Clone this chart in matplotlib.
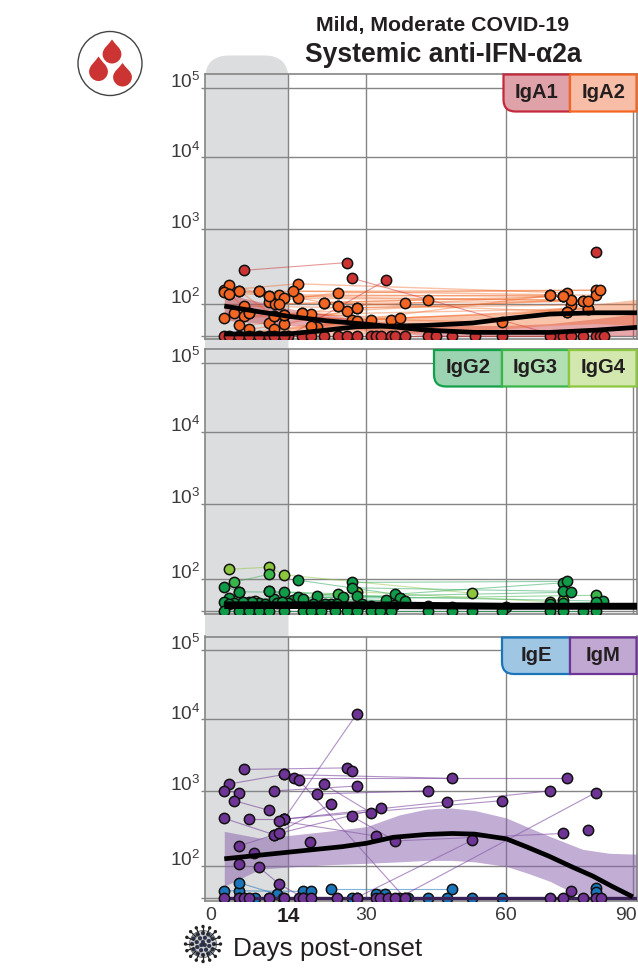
import numpy as np
import matplotlib
matplotlib.use("Agg")
import matplotlib.pyplot as plt
from matplotlib.path import Path
from matplotlib.patches import PathPatch, Circle
from matplotlib.transforms import ScaledTranslation
from matplotlib.ticker import NullLocator

plt.rcParams['font.family'] = ['Liberation Sans', 'DejaVu Sans']

W, H = 638, 972
AXIS_DAYS = [-1.1, 0, 14, 30, 60, 90, 91]
AXIS_PIX = [205, 211, 288.5, 366.5, 506.5, 633, 637.2]
AXIS_LOGS = [1.509, 1.556, 2, 3, 4, 5, 5.195]
AXIS_DROP = [-264.5, -261.2, -229.3, -154.4, -83, -13.5, 0]
LOD = 36

# ---------- IgA ----------
iga2_days = [[2.4, 15.9, 74.4], [3.3, 10.5, 70.3], [3.3, 12.2, 73.4], [5.1, 16, 75.4], [8.7, 21.2, 43.3],
             [10.5, 24.1, 81.2], [11.5, 38.2, 78.3], [13.2, 15, 81.2], [6, 28, 75.4], [2.4, 11.4, 31, 79.3],
             [4.2, 13.2, 27, 74.4], [6, 16.8, 35.2, 59], [6.9, 18.7, 37.2], [5.1, 10.5, 24.1], [6.9, 13.2, 26],
             [11.4, 19.8, 28], [18.7, 70.3], [2.4, 82.2], [12.2, 73.4], [13.2, 79.3], [16.8, 75.4], [10.5, 78.3],
             [21.2, 74.4], [24.1, 73.4], [28, 79.3], [8.7, 13.2], [5.1, 11.4], [3.3, 6.9]]
iga2_vals = [[152, 185, 140], [180, 126, 130], [137, 132, 126], [148, 118, 113], [150, 104, 113],
             [106, 140, 152], [100, 103, 110], [121, 148, 130], [93, 88, 96], [64, 67, 60, 86],
             [75, 70, 60, 78], [67, 75, 60, 55], [75, 71, 64], [50, 54, 92], [44, 52, 80],
             [44, 48, 57], [49, 130], [145, 152], [100, 126], [70, 86], [75, 113], [126, 110],
             [104, 78], [92, 126], [88, 110], [150, 70], [148, 67], [137, 75]]
iga1_days = [[6, 26], [27, 72], [14, 34.1], [81.2]]
iga1_vals = [[280, 355], [220, 36], [36, 205], [490]]
iga1_lod_days = [2.4, 3.3, 5.1, 6.9, 8.7, 10.5, 11.4, 13.2, 16.8, 18.7, 21.2, 24.1, 26, 28, 31, 32, 33.1, 35.2,
                 36.2, 38.2, 43.3, 45, 48.3, 53.2, 59, 70.3, 73.4, 75.4, 78.3, 81.2, 82.2, 83.2]

fit_a_days = [2.4, 8.9, 14, 21.8, 30, 42.8, 53.2, 59, 70.3, 81.2, 91]
fit_a_vals = [93, 77, 67, 58, 52, 43, 40, 40, 40, 43, 47]
fit_b_days = [2.4, 14, 21.8, 28, 35.2, 42.8, 52.7, 60, 70.3, 81.2, 91]
fit_b_vals = [38, 38, 43, 48, 49, 50, 54, 62, 72, 75, 75]
band_b_days = [2.4, 21.8, 35.7, 60, 70.3, 81.2, 91]
band_b_up = [38, 56, 66, 73, 86, 100, 115]
band_b_lo = [36, 37, 38, 45, 50, 53, 50]
band_a_days = [2.4, 14, 30, 42.8, 60, 70.3, 81.2, 91]
band_a_up = [137, 86, 59, 50, 50, 53, 62, 73]
band_a_lo = [59, 50, 43, 36, 36, 36, 36, 36]

# ---------- IgG ----------
igg2_days = [[2.4, 5.1], [15.9, 36.2, 73.4], [27, 74.4], [27, 73.4], [5.1, 13.2, 28, 75.4], [3.3, 11.4, 25.2],
             [2.4, 6.9, 15, 34.1], [8.7, 16, 37.2], [10.5, 17, 38.2], [19.8, 83], [22.8, 70.3], [43.3, 73.4],
             [48.3, 81.2], [4.2, 9.8, 19], [6, 12, 24], [7.5, 14], [12.8, 21.5], [29, 36], [3.3, 5.8], [31, 60]]
igg2_vals = [[78, 66], [96, 61, 88], [89, 92], [75, 67], [66, 65, 57, 65], [54, 53, 56],
             [47, 47, 51, 50], [46, 55, 54], [67, 53, 49], [58, 49], [44, 44], [42, 46], [41, 47],
             [46, 45, 44], [44, 46, 45], [47, 46], [48, 44], [44, 43], [45, 47], [42, 41]]
igg2_lod_days = [2.4, 5.1, 6.9, 8.7, 10.5, 13.2, 17, 18.7, 20.6, 23.6, 26, 28, 31, 33, 35.2, 43.3, 48.3, 52.7,
                 59, 70.3, 73.4, 78.3, 81.2]
igg3_days = [[4.2, 10.5], [10.5, 24.1, 37.2, 81.2]]
igg3_vals = [[90, 115], [67, 62, 54, 59]]
igg4_days = [[3.3, 10.5, 13.2, 52.7], [8, 28, 70.3], [73.4]]
igg4_vals = [[134, 143, 113, 63], [49, 66, 48], [50]]
fit_g_days = [2.4, 30, 60, 91]
fit_g1_vals = [45, 45, 43, 43]
fit_g2_vals = [41, 41, 40, 40]

# ---------- IgE / IgM ----------
ige_days = [[2.4, 17], [5.1], [5.1, 12], [18.7], [22.8, 48.3], [32], [34], [81.2], [81.2]]
ige_vals = [[45, 44], [45], [58, 40], [44], [47, 47], [41], [41], [49], [43]]
ige_lod_days = [5.1, 8, 10.5, 13, 27, 39, 43.3, 47.3, 52.7, 59]
igm_days = [[28, 13.2], [6, 26, 27], [13.2, 48.3], [15.1, 74.4], [3.3, 13.2], [16.2, 38.2], [21.2, 31],
            [28, 11.4], [2.4, 5.1], [43.3, 19.8], [70.3, 47.3, 13.2], [81.2, 37], [4.2, 10.5], [59, 13.2],
            [22.8, 11.4], [33.1, 12.2], [2.4, 11.4], [6.9, 13.2], [27, 36.2, 73.4], [12.2, 32], [5.1, 12.2],
            [18.5], [52.7, 28], [7.8], [5.1], [8.7, 12.3, 17], [79.3]]
igm_vals = [[12000, 420], [2000, 2100, 1900], [1700, 1500], [1500, 1500], [1250, 1700], [1400, 36], [1250, 510],
            [1170, 1000], [1000, 950], [1000, 910], [1000, 720, 420], [950, 36], [740, 550], [740, 420],
            [670, 260], [590, 270], [430, 260], [420, 420], [460, 215, 270], [400, 250], [185, 270],
            [210], [220, 36], [150], [105], [95, 56, 36], [300]]
igm_lod_days = [2.4, 5.1, 6, 6.9, 10.5, 13.2, 16.2, 17, 18.7, 23.9, 28, 32, 33, 34.7, 36.2, 38.2, 70.3, 73.4,
                78.3, 81.2, 82.4]
igm_extra_days = [75.4]
igm_extra_vals = [45]
fit_m_days = [2.4, 14, 25, 30, 35.7, 42.8, 48.3, 53.2, 60, 64.7, 70.3, 75.5, 80.5, 85, 90]
fit_m_vals = [124, 152, 180, 200, 240, 262, 270, 265, 229, 180, 133, 97, 72, 52, 37]
band_m_days = [2.4, 8.9, 14, 21.8, 30, 33, 37.1, 42.8, 45.5, 48.3, 53.2, 60, 65, 70.3, 78.1, 84.4, 91]
band_m_up = [288, 234, 254, 288, 333, 389, 479, 570, 585, 590, 548, 436, 330, 247, 166, 147, 143]
band_m_lo_days = [2.4, 5.8, 8.9, 14, 21.8, 30, 37.1, 42.8, 48.3, 53.2, 60, 65, 70.3, 74.2, 78.1, 91]
band_m_lo = [52, 76, 90, 96, 103, 108, 113, 118, 118, 113, 98, 79, 61, 47, 36, 36]
fit_e_days = [2.4, 91]
fit_e_vals = [36, 36]

YTICKS = [36, 1e2, 1e3, 1e4, 1e5]
YLABELS = ['', r'$\mathregular{10^{2}}$', r'$\mathregular{10^{3}}$', r'$\mathregular{10^{4}}$', r'$\mathregular{10^{5}}$']
XTICKS = [14, 30, 60, 90]
GREY = '#858585'
TXT = '#231f20'
MS = 55
MEW = 1.1

fig = plt.figure(figsize=(W / 100, H / 100), dpi=100, facecolor='white')


def px_axes(l, t, r, b, z=0):
    return fig.add_axes([l / W, 1 - b / H, (r - l) / W, (b - t) / H], zorder=z)


bg = px_axes(0, 0, W, H, -1)
bg.set_xlim(0, W); bg.set_ylim(H, 0); bg.axis('off')
fg = px_axes(0, 0, W, H, 20)
fg.set_xlim(0, W); fg.set_ylim(H, 0); fg.axis('off'); fg.patch.set_alpha(0)


def rounded_rect(x0, y0, x1, y1, tl=0, tr=0, bl=0, br=0):
    v = [(x0 + tl, y0), (x1 - tr, y0), (x1, y0), (x1, y0 + tr), (x1, y1 - br), (x1, y1), (x1 - br, y1),
         (x0 + bl, y1), (x0, y1), (x0, y1 - bl), (x0, y0 + tl), (x0, y0), (x0 + tl, y0), (x0 + tl, y0)]
    c = [Path.MOVETO, Path.LINETO, Path.CURVE3, Path.CURVE3, Path.LINETO, Path.CURVE3, Path.CURVE3,
         Path.LINETO, Path.CURVE3, Path.CURVE3, Path.LINETO, Path.CURVE3, Path.CURVE3, Path.CLOSEPOLY]
    return Path(v, c)


bg.add_patch(PathPatch(rounded_rect(205, 55.5, 288.5, 900, tl=24, tr=24), fc='#dcddde', ec='none'))


def y_forward(y):
    return np.interp(np.log10(np.maximum(y, 1e-3)), AXIS_LOGS, AXIS_DROP)


def y_inverse(p):
    return 10 ** np.interp(p, AXIS_DROP, AXIS_LOGS)


def make_panel(top):
    ax = px_axes(205, top, 637, top + 264.5, 5)
    ax.patch.set_alpha(0)
    ax.set_xscale('function', functions=(lambda d: np.interp(d, AXIS_DAYS, AXIS_PIX),
                                         lambda p: np.interp(p, AXIS_PIX, AXIS_DAYS)))
    ax.set_yscale('function', functions=(y_forward, y_inverse))
    ax.set_xlim(-1.1, 91)
    ax.set_ylim(10 ** 1.509, 10 ** 5.195)
    ax.set_yticks(YTICKS)
    ax.set_yticklabels(YLABELS, fontsize=13.7, color='#3a3a3a')
    ax.yaxis.set_minor_locator(NullLocator())
    ax.xaxis.set_minor_locator(NullLocator())
    ax.set_xticks(XTICKS)
    ax.set_xticklabels([])
    ax.tick_params(axis='y', length=2.6, width=1, color=GREY, pad=1)
    ax.tick_params(axis='x', length=0)
    for lab in ax.get_yticklabels():
        lab.set_verticalalignment('baseline')
    ax.grid(True, color=GREY, lw=1.0, zorder=1)
    ax.set_axisbelow(True)
    for s in ax.spines.values():
        s.set_color(GREY)
        s.set_linewidth(1.2)
    return ax


def tracks(ax, days, vals, color, alpha=0.45, lw=0.8, z=3):
    for d, v in zip(days, vals):
        if len(d) > 1:
            ax.plot(d, v, color=color, lw=lw, alpha=alpha, zorder=2)
    ax.scatter(sum(days, []), sum(vals, []), s=MS, c=color, edgecolors='#111111', linewidths=MEW, zorder=z)


def lod_points(ax, days, color, z=3.2):
    ax.plot(days, [LOD] * len(days), color=color, lw=0.8, alpha=.6, zorder=2)
    ax.scatter(days, [LOD] * len(days), s=MS, c=color, edgecolors='#111111', linewidths=MEW, zorder=z)


RED, ORANGE = '#cc3333', '#f26522'
G2, G3, G4 = '#0f9b48', '#39b54a', '#8cc63f'
BLUE, PURPLE = '#1b75bb', '#6f3596'

# Panel 1
ax1 = make_panel(74.5)
ax1.fill_between(band_a_days, band_a_lo, band_a_up, color='#c8303a', alpha=.42, lw=0, zorder=2.2)
ax1.fill_between(band_b_days, band_b_lo, band_b_up, color=ORANGE, alpha=.38, lw=0, zorder=2.2)
tracks(ax1, iga2_days, iga2_vals, ORANGE, alpha=.4, lw=1.0)
tracks(ax1, iga1_days, iga1_vals, RED, alpha=.5)
lod_points(ax1, iga1_lod_days, RED)
ax1.plot(fit_a_days, fit_a_vals, color='black', lw=3.4, zorder=6, solid_capstyle='butt')
ax1.plot(fit_b_days, fit_b_vals, color='black', lw=3.4, zorder=6, solid_capstyle='butt')

# Panel 2
ax2 = make_panel(349.5)
tracks(ax2, igg4_days, igg4_vals, G4, alpha=.5)
tracks(ax2, igg3_days, igg3_vals, G3, alpha=.5, z=3.05)
tracks(ax2, igg2_days, igg2_vals, G2, alpha=.45, z=3.1)
lod_points(ax2, igg2_lod_days, G2)
ax2.plot(fit_g_days, fit_g1_vals, color='black', lw=3.4, zorder=6, solid_capstyle='butt')
ax2.plot(fit_g_days, fit_g2_vals, color='black', lw=3.4, zorder=6, solid_capstyle='butt')

# Panel 3
ax3 = make_panel(636.5)
ax3.fill_between(band_m_days, np.interp(band_m_days, band_m_lo_days, band_m_lo), band_m_up,
                 color='#8a63ad', alpha=.52, lw=0, zorder=2.2)
tracks(ax3, ige_days, ige_vals, BLUE, alpha=.55)
lod_points(ax3, ige_lod_days, BLUE, z=3.1)
ax3.plot(fit_e_days, fit_e_vals, color='#3b2358', lw=2.4, zorder=3.15, solid_capstyle='butt')
tracks(ax3, igm_days, igm_vals, PURPLE, alpha=.55, z=3.3)
ax3.scatter(igm_extra_days, igm_extra_vals, s=MS, c=PURPLE, edgecolors='#111111', linewidths=MEW, zorder=3.3)
lod_points(ax3, igm_lod_days, PURPLE, z=3.4)
ax3.plot(fit_m_days, fit_m_vals, color='black', lw=3.4, zorder=6, solid_capstyle='butt')

# x tick labels
ax3.set_xticks([0] + XTICKS)
ax3.set_xticklabels(['0', '14', '30', '60', '90'], fontsize=14, color='#3a3a3a')
ax3.tick_params(axis='x', length=0, pad=4.5)
xl = ax3.get_xticklabels()
xl[1].set_fontweight('bold')
xl[1].set_fontsize(15)
xl[1].set_color(TXT)
xl[4].set_transform(xl[4].get_transform() + ScaledTranslation(-6.5 / 100, 0, fig.dpi_scale_trans))
ax3.xaxis.get_gridlines()[0].set_visible(False)

# titles
fg.text(443, 25, 'Mild, Moderate COVID-19', fontsize=15.3, fontweight='bold', color=TXT, ha='center', va='center')
fg.text(443, 55, 'Systemic anti-IFN-α2a', fontsize=19.1, fontweight='bold', color=TXT, ha='center', va='center')
fg.text(233, 948.5, 'Days post-onset', fontsize=18.8, color=TXT, ha='left', va='center')


# isotype tags
def tag(x0, x1, y0, y1, label, fc, ec, bl=0):
    fg.add_patch(PathPatch(rounded_rect(x0, y0, x1, y1, bl=bl), fc=fc, ec=ec, lw=1.6, clip_on=False))
    fg.text((x0 + x1) / 2, (y0 + y1) / 2 - .5, label, fontsize=14.6, fontweight='bold', color=TXT, ha='center', va='center')


tag(503.5, 570, 74.5, 111.5, 'IgA1', '#e0a2a9', '#c4283c', bl=12)
tag(570, 636.5, 74.5, 111.5, 'IgA2', '#f8bda6', ORANGE)
tag(434, 502, 350, 386.5, 'IgG2', '#9cd3b0', '#12a14b', bl=12)
tag(502, 569, 350, 386.5, 'IgG3', '#b2e0b5', '#39b54a')
tag(569, 636.5, 350, 386.5, 'IgG4', '#d3e8ae', G4)
tag(502, 570, 637.5, 674, 'IgE', '#9fc6e3', BLUE, bl=12)
tag(570, 636.5, 637.5, 674, 'IgM', '#c1a8d3', PURPLE)

# blood icon
fg.add_patch(Circle((110, 63.5), 32, fc='white', ec='#444444', lw=1.0))


def drop(cx, tip, bottom, hw=9.4):
    my = bottom - hw
    h = my - tip
    v = [(cx, tip),
         (cx + hw * .35, tip + h * .35), (cx + hw, my - h * .4), (cx + hw, my),
         (cx + hw, my + .55 * hw), (cx + .55 * hw, bottom), (cx, bottom),
         (cx - .55 * hw, bottom), (cx - hw, my + .55 * hw), (cx - hw, my),
         (cx - hw, my - h * .4), (cx - hw * .35, tip + h * .35), (cx, tip),
         (cx, tip)]
    c = [Path.MOVETO] + [Path.CURVE4] * 12 + [Path.CLOSEPOLY]
    fg.add_patch(PathPatch(Path(v, c), fc=RED, ec='none'))


drop(112, 39.5, 63.5)
drop(98.5, 56.5, 81)
drop(122.5, 63, 86.5)

# virus icon
vx, vy = 203, 944
for a in np.linspace(0, 2 * np.pi, 17)[:-1]:
    fg.plot([vx + 10 * np.cos(a), vx + 17 * np.cos(a)], [vy + 10 * np.sin(a), vy + 17 * np.sin(a)], color='#222222', lw=.9)
    fg.add_patch(Circle((vx + 17.5 * np.cos(a), vy + 17.5 * np.sin(a)), 1.7, fc='#222222', ec='none'))
fg.add_patch(Circle((vx, vy), 13.5, fc='#c9cbce', ec='#555555', lw=.5))
for r, n, o in [(11, 12, 0), (6.5, 8, .3), (2, 3, .5)]:
    for a in np.linspace(0, 2 * np.pi, n + 1)[:-1] + o:
        fg.add_patch(Circle((vx + r * np.cos(a), vy + r * np.sin(a)), 1.9, fc='#2b3350', ec='#111111', lw=.2))

fig.savefig('out.png', dpi=100)
